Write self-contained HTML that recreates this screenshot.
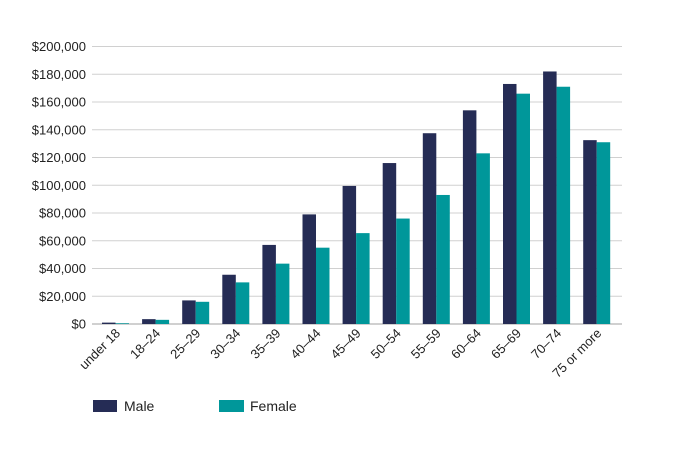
<!DOCTYPE html>
<html><head><meta charset="utf-8"><style>body{margin:0;background:#fff}svg{display:block;font-family:"Liberation Sans",Arial,sans-serif}</style></head><body>
<svg width="689" height="452" xmlns="http://www.w3.org/2000/svg">
<g id="grid" stroke="#d0d0d0" stroke-width="1"></g>
<g id="ylab" font-size="13" fill="#222" text-anchor="end"></g>
<g id="bars"></g>
<g id="xlab" font-size="13" fill="#222" text-anchor="end"></g>
<rect x="93" y="400" width="24" height="12" fill="#252c55"/>
<text x="124" y="411" font-size="14" fill="#222">Male</text>
<rect x="219" y="400" width="25" height="12" fill="#00979a"/>
<text x="250" y="411" font-size="14" fill="#222">Female</text>
<script>
var ns="http://www.w3.org/2000/svg";
function el(p,t,a,txt){var e=document.createElementNS(ns,t);for(var k in a)e.setAttribute(k,a[k]);if(txt!=null)e.textContent=txt;document.getElementById(p).appendChild(e);}
var y0=324,s=(324-46.5)/200000;
for(var i=0;i<=10;i++){var v=i*20000,y=y0-v*s;
el("grid","line",{x1:92,x2:622,y1:y,y2:y,"stroke-width":i==0?2:1});
el("ylab","text",{x:86,y:y+4.5},"$"+v.toLocaleString("en-US"));}
var cats=["under 18","18–24","25–29","30–34","35–39","40–44","45–49","50–54","55–59","60–64","65–69","70–74","75 or more"];
var m=[1000,3500,17000,35500,57000,79000,99500,116000,137500,154000,173000,182000,132500];
var f=[500,3000,16000,30000,43500,55000,65500,76000,93000,123000,166000,171000,131000];
for(var i=0;i<13;i++){var x=102+i*40.1;
el("bars","rect",{x:x,y:y0-m[i]*s,width:13.5,height:m[i]*s,fill:"#252c55"});
el("bars","rect",{x:x+13.5,y:y0-f[i]*s,width:13.5,height:f[i]*s,fill:"#00979a"});
var cx=x+19,cy=334;
el("xlab","text",{x:cx,y:cy,transform:"rotate(-45 "+cx+" "+cy+")"},cats[i]);}
</script>
</svg>
</body></html>
